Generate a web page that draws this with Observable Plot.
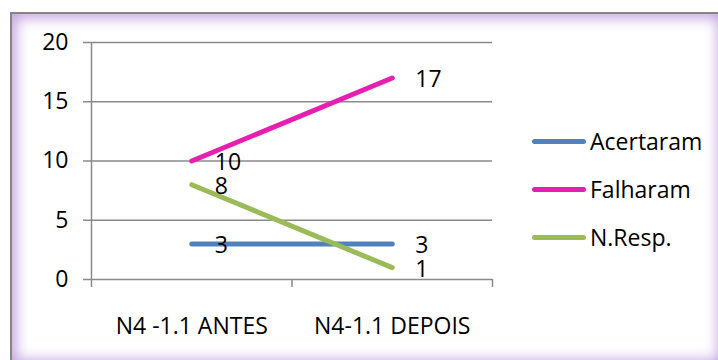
<!DOCTYPE html>
<html>
<head>
<meta charset="utf-8">
<script src="https://cdn.jsdelivr.net/npm/d3@7"></script>
<script src="https://cdn.jsdelivr.net/npm/@observablehq/plot@0.6"></script>
<style>
  body { margin: 0; background: #fff; overflow: hidden; }
  #wrap { position: relative; width: 718px; height: 360px; font-family: "Open Sans", sans-serif; overflow: hidden; }
  #frame {
    position: absolute; left: 10px; top: 12px; width: 714px; height: 354px;
    border: 2px solid #858585; box-sizing: border-box; background: #fff;
    box-shadow: inset 0 0 14px 4px #c3a2e0;
  }
  #chart { position: absolute; left: 0; top: 0; }
  #chart [aria-label^="y-axis"] line, #chart [aria-label^="y-axis"] path,
  #chart [aria-label^="x-axis"] line, #chart [aria-label^="x-axis"] path { stroke: #8a8a8a; stroke-width: 1.5px; }
  #legend { position: absolute; left: 532px; top: 0; font-size: 23px; color: #000; }
  .item { position: absolute; left: 0; display: flex; align-items: center; white-space: nowrap; transform: translateY(-50%); }
  .swatch { width: 54px; height: 5px; border-radius: 3px; margin-right: 4px; }
</style>
</head>
<body>
<div id="wrap">
  <div id="frame"></div>
  <div id="chart"></div>
  <div id="legend"></div>
</div>
<script>
// Categories, series and values
const categories = ["N4 -1.1 ANTES", "N4-1.1 DEPOIS"];
const seriesNames = ["Acertaram", "Falharam", "N.Resp."];
const acertaram = [3, 3];
const falharam = [10, 17];
const nResp = [8, 1];
const yTicks = [0, 5, 10, 15, 20];
const seriesColors = ["#4f81bd", "#e61fb1", "#9bbb59"];

// Long table: each category sits at the middle of its slot on a 0..2 axis
const rows = [];
[acertaram, falharam, nResp].forEach((vals, s) =>
  vals.forEach((v, i) => rows.push({series: seriesNames[s], pos: i + 0.5, value: v, category: categories[i]}))
);
const catRows = categories.map((c, i) => ({pos: i + 0.5, label: c}));

const chart = Plot.plot({
  width: 718,
  height: 360,
  marginLeft: 91,
  marginRight: 226,
  marginTop: 42,
  marginBottom: 81,
  style: {background: "transparent", fontFamily: "Open Sans, sans-serif", fontSize: "23px", color: "#000", overflow: "visible"},
  x: {domain: [0, 2], ticks: [0, 1, 2], tickSize: 8, tickFormat: () => "", line: true, label: null},
  y: {domain: [0, 20], ticks: yTicks, tickSize: 8, tickPadding: 15, label: null},
  color: {domain: seriesNames, range: seriesColors},
  marks: [
    Plot.ruleY(yTicks, {stroke: "#8a8a8a", strokeWidth: 1.5}),
    Plot.ruleX([0], {stroke: "#8a8a8a", strokeWidth: 1.5}),
    Plot.line(rows, {x: "pos", y: "value", z: "series", stroke: "series", strokeWidth: 5, strokeLinecap: "round"}),
    Plot.text(rows, {x: "pos", y: "value", text: d => String(d.value), dx: 23, dy: 2, textAnchor: "start", fill: "#000"}),
    Plot.text(catRows, {x: "pos", y: () => 0, text: "label", dy: 47, fill: "#000"})
  ]
});
document.getElementById("chart").appendChild(chart);

// Legend to the right of the plot
const legend = document.getElementById("legend");
const legendY = [141, 189, 237];
seriesNames.forEach((name, i) => {
  const item = document.createElement("div");
  item.className = "item";
  item.style.top = legendY[i] + "px";
  item.innerHTML = `<div class="swatch" style="background:${seriesColors[i]}"></div><span>${name}</span>`;
  legend.appendChild(item);
});
</script>
</body>
</html>
